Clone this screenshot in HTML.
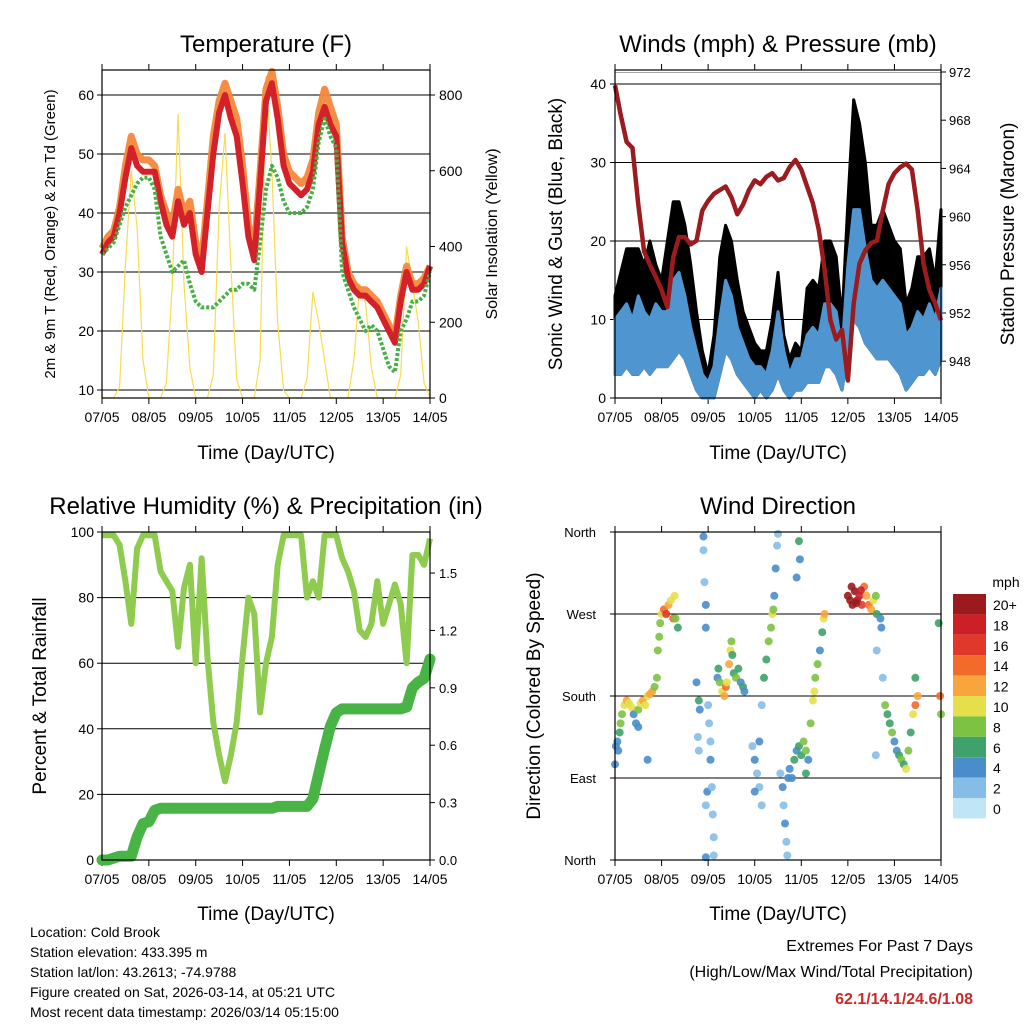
<!DOCTYPE html>
<html><head><meta charset="utf-8"><style>
body{margin:0;background:#fff}
svg{display:block;font-family:"Liberation Sans",Arial,sans-serif}
</style></head><body>
<svg id="chart" width="1024" height="1024" viewBox="0 0 1024 1024">
<rect width="1024" height="1024" fill="#fff"/>
</svg>
<script>
// ---- data (sampled every 3 hours, 07/05 00Z .. 14/05 00Z) ----
const dayLabels=["07/05","08/05","09/05","10/05","11/05","12/05","13/05","14/05"];
const tempRed=[33,35,36,40,46,51,48,47,47,47,42,38,36,42,38,40,33,30,40,50,57,60,56,53,45,36,32,45,59,62,56,48,45,44,43,44,47,55,58,55,53,35,29,27,26,26,25,24,22,20,18,25,30,27,27,28,31];
const tempOrange=[34,36,37,41,48,53,50,49,49,48,43,40,38,44,40,42,35,32,42,53,59,62,59,56,48,38,34,47,61,64,58,50,47,46,45,46,49,57,61,58,55,36,30,28,27,27,26,25,23,21,19,26,31,28,28,29,31];
const dewGreen=[33,34,35,38,41,43,45,46,46,44,36,33,30,31,32,28,25,24,24,24,25,26,27,27,28,28,27,35,44,48,46,42,40,40,40,41,44,52,56,53,51,30,27,24,22,20,21,20,17,14,13,20,22,25,25,26,30];
const solar=[0,0,0,30,350,600,450,100,0,0,0,40,300,750,300,80,0,0,0,60,500,700,350,50,0,0,0,100,850,600,200,20,0,0,0,50,280,200,100,0,0,0,0,100,300,250,80,0,0,0,0,60,400,300,200,40,0];
const tempTicks=[10,20,30,40,50,60];
const solarTicks=[0,200,400,600,800];
const gust=[13,16,19,19,19,17,20,17,15,20,25,25,22,17,11,6,3,8,18,22,20,15,11,9,7,6,6,10,16,8,5,7,6,14,15,14,20,20,18,10,25,38,35,30,22,22,24,22,20,19,12,14,18,18,19,15,24];
const windHigh=[10,11,12,10,13,11,10,12,11,11,15,16,13,9,6,3,2,4,10,15,13,9,7,5,4,4,3,6,11,6,3,5,5,8,9,8,12,12,11,6,17,24,24,19,15,14,15,14,13,12,8,9,11,10,12,10,14];
const windLow=[3,3,4,3,3,4,3,4,4,4,5,6,5,3,1,0,0,0,3,6,5,3,2,1,0,1,0,1,3,1,0,1,1,2,2,2,4,4,3,1,6,10,9,7,6,5,5,5,4,3,1,2,3,3,4,3,5];
const pressure=[970.9,968.4,966.2,965.7,961,957.1,956,955,953.9,952.5,956.6,958.3,958.3,957.7,958,960.5,961.3,961.9,962.2,962.5,961.6,960.2,961,962.2,963,962.7,963.3,963.6,963,963.2,964.1,964.7,963.9,962.5,961.1,958.9,955.6,951.4,949.8,950.6,946.4,952.8,956.1,957.2,957.8,958,960.5,962.7,963.6,964.1,964.4,963.9,960.5,956.1,953.9,952.8,951.4];
const windTicks=[0,10,20,30,40];
const pressTicks=[948,952,956,960,964,968,972];
const rh=[99,99,99,96,85,72,95,99,99,99,88,85,82,65,83,90,60,92,62,42,32,24,32,42,62,80,75,45,60,68,90,99,99,99,99,80,85,80,99,99,99,92,88,82,70,68,72,85,72,78,84,78,60,93,93,90,98];
const precip=[0,0,0.01,0.02,0.02,0.02,0.12,0.19,0.2,0.26,0.27,0.27,0.27,0.27,0.27,0.27,0.27,0.27,0.27,0.27,0.27,0.27,0.27,0.27,0.27,0.27,0.27,0.27,0.27,0.27,0.28,0.28,0.28,0.28,0.28,0.28,0.32,0.45,0.58,0.7,0.77,0.79,0.79,0.79,0.79,0.79,0.79,0.79,0.79,0.79,0.79,0.79,0.8,0.9,0.93,0.95,1.05];
const rhTicks=[0,20,40,60,80,100];
const precipTicks=["0.0","0.3","0.6","0.9","1.2","1.5"];
const dirTime=[0,0.02,0.05,0.07,0.1,0.12,0.15,0.2,0.25,0.3,0.35,0.4,0.45,0.5,0.55,0.6,0.65,0.7,0.75,0.8,0.85,0.9,0.92,0.95,0.97,1.0,1.05,1.1,1.15,1.2,1.25,1.28,1.3,1.35,0.5,0.7,
1.9,1.9,1.92,1.95,1.95,1.75,1.8,1.82,1.78,1.8,1.95,1.98,2.0,2.02,2.05,2.05,2.08,2.1,2.12,2.12,1.95,
2.2,2.22,2.25,2.3,2.35,2.38,2.4,2.45,2.48,2.5,2.52,2.55,2.6,2.65,2.7,2.75,2.78,
2.95,3.0,3.05,3.1,3.15,3.0,3.1,3.15,3.2,3.25,3.3,3.35,3.38,3.4,3.42,3.45,3.48,3.5,
3.55,3.6,3.62,3.65,3.68,3.7,3.72,3.75,3.8,3.85,3.9,3.95,4.0,4.05,4.1,4.1,4.15,4.2,4.25,4.28,4.3,4.35,4.4,4.45,4.48,4.5,3.95,3.97,3.9,
5.0,5.05,5.1,5.15,5.2,5.25,5.3,5.35,5.4,5.45,5.5,5.55,5.6,5.62,5.08,5.18,5.28,
5.7,5.72,5.75,5.8,5.85,5.9,5.95,6.0,6.05,6.1,6.15,6.2,6.25,6.3,6.35,6.4,6.45,6.5,6.45,5.62,5.6,6.95,6.98,7.0];
const dirDeg=[105,125,130,120,140,150,160,170,175,172,168,160,150,165,172,175,170,180,182,185,190,200,230,245,260,270,275,270,280,285,265,290,265,255,146,110,
355,340,305,280,255,195,175,165,135,120,60,75,170,150,130,110,80,50,25,5,3,
200,210,195,185,180,190,195,215,230,240,225,205,200,210,195,190,185,
125,110,95,80,60,75,130,170,200,220,240,255,270,275,290,320,345,358,
95,80,60,40,20,5,90,100,90,110,120,125,115,130,120,95,110,150,175,185,200,215,230,250,265,270,350,330,310,
290,285,280,295,285,290,280,300,290,280,275,285,290,270,300,282,296,
265,255,200,170,160,150,140,130,120,115,110,105,100,120,140,160,170,180,200,230,115,260,180,160];
const dirSpeed=[4,4,3,4,6,8,8,10,11,10,9,4,4,8,10,11,9,10,12,11,8,8,8,7,8,10,14,15,12,10,13,10,7,6,4,4,
3,2,2,4,4,4,6,4,2,2,2,3,2,2,2,3,2,2,2,1,3,
4,6,8,10,12,14,10,12,10,8,6,6,7,6,4,6,4,
2,3,2,2,2,3,4,2,6,6,7,8,9,7,3,3,2,2,
2,4,2,3,2,2,4,4,3,5,4,6,6,7,7,6,4,8,10,9,8,7,4,6,10,12,6,4,4,
20,21,22,20,19,18,16,14,12,14,12,10,8,6,21,19,17,
4,3,2,8,6,6,8,4,4,6,8,6,10,8,6,10,14,12,6,2,2,6,14,8];
const dirTicks=[[0,"North"],[90,"East"],[180,"South"],[270,"West"],[360,"North"]];
const speedBins=["0","2","4","6","8","10","12","14","16","18","20+"];
const speedColors=["#bfe5f7","#86bde6","#4a8dcb","#3ea26a","#7cc243","#e5df4b","#f8a53d","#f26b2a","#e0392b","#cc1f26","#9b1a1d"];

// ---- drawing ----
const svg=document.getElementById('chart');
const NS="http://www.w3.org/2000/svg";
function mk(tag,attrs,parent){const e=document.createElementNS(NS,tag);for(const k in attrs)e.setAttribute(k,attrs[k]);(parent||svg).appendChild(e);return e;}
function txt(s,x,y,size,anchor,parent,extra){const e=mk('text',Object.assign({x:x,y:y,'font-size':size,'text-anchor':anchor||'middle',fill:'#000'},extra||{}),parent);e.textContent=s;return e;}
const N=tempRed.length;
function tOf(i){return i*7/(N-1);}
function pts(arr,fx,fy){return arr.map((v,i)=>fx(tOf(i)).toFixed(1)+','+fy(v).toFixed(1)).join(' ');}

function frame(name,x0,y0,x1,y1,title,xtitleY){
  const g=mk('g',{});
  
  
  const tt=txt(title,(x0+x1)/2,y0-18,24,'middle',g);
  
  
  const xs=t=>x0+t/7*(x1-x0);
  dayLabels.forEach((d,i)=>{
    const x=xs(i);
    mk('line',{x1:x,y1:y1,x2:x,y2:y1+6,stroke:'#000','stroke-width':1},g);
    mk('line',{x1:x,y1:y0,x2:x,y2:y0-6,stroke:'#000','stroke-width':1},g);
    const l=txt(d,x,y1+24,14,'middle',g);
    
    
  });
  const xt=txt('Time (Day/UTC)',(x0+x1)/2,xtitleY,19,'middle',g);
  
  
  return {g,xs};
}
function box(g,x0,y0,x1,y1){mk('rect',{x:x0,y:y0,width:x1-x0,height:y1-y0,fill:'none',stroke:'#000','stroke-width':1.2},g);}
function ytitle(s,x,y,size,g,name){const e=txt(s,x,y,size,'middle',g,{transform:'rotate(-90 '+x+' '+y+')'});}

// Panel 1: Temperature
(function(){
  const x0=102,x1=430,y0=70,y1=398;
  const {g,xs}=frame('temperature-panel',x0,y0,x1,y1,'Temperature (F)',459);
  const yT=v=>390-(v-10)*5.9, yS=v=>398-v*303/800;
  tempTicks.forEach(v=>{mk('line',{x1:x0,x2:x1,y1:yT(v),y2:yT(v),stroke:'#000','stroke-width':1},g);
    mk('line',{x1:x0-5,x2:x0,y1:yT(v),y2:yT(v),stroke:'#000'},g);txt(String(v),x0-8,yT(v)+5,14,'end',g);});
  solarTicks.forEach(v=>{mk('line',{x1:x1,x2:x1+5,y1:yS(v),y2:yS(v),stroke:'#000'},g);txt(String(v),x1+9,yS(v)+5,14,'start',g);});
  const s=mk('polyline',{points:pts(solar,xs,yS),fill:'none',stroke:'#f7dc4e','stroke-width':1.2},g);
  
  const o=mk('polyline',{points:pts(tempOrange,xs,yT),fill:'none',stroke:'#f5873a','stroke-width':7,'stroke-linejoin':'round',opacity:0.95},g);
  
  const r=mk('polyline',{points:pts(tempRed,xs,yT),fill:'none',stroke:'#d42028','stroke-width':6,'stroke-linejoin':'round'},g);
  
  const gr=mk('polyline',{points:pts(dewGreen,xs,yT),fill:'none',stroke:'#47b045','stroke-width':4,'stroke-dasharray':'3 2','stroke-linejoin':'round'},g);
  
  box(g,x0,y0,x1,y1);
  ytitle('2m & 9m T (Red, Orange) & 2m Td (Green)',55,234,15,g,'y-axis-title-left');
  ytitle('Solar Insolation (Yellow)',497,234,16,g,'y-axis-title-right');
})();

// Panel 2: Winds & Pressure
(function(){
  const x0=615,x1=941,y0=70,y1=398;
  const {g,xs}=frame('winds-panel',x0,y0,x1,y1,'Winds (mph) & Pressure (mb)',459);
  const yW=v=>398-v*7.85, yP=p=>72+(972-p)*12.05;
  windTicks.forEach(v=>{if(v>0)mk('line',{x1:x0,x2:x1,y1:yW(v),y2:yW(v),stroke:'#000','stroke-width':1},g);
    mk('line',{x1:x0-5,x2:x0,y1:yW(v),y2:yW(v),stroke:'#000'},g);txt(String(v),x0-9,yW(v)+5,14,'end',g);});
  mk('line',{x1:x0,x2:x1,y1:72.5,y2:72.5,stroke:'#888','stroke-width':0.8},g);
  pressTicks.forEach(v=>{mk('line',{x1:x1,x2:x1+5,y1:yP(v),y2:yP(v),stroke:'#000'},g);txt(String(v),x1+8,yP(v)+5,13,'start',g);});
  const top=gust.map((v,i)=>xs(tOf(i)).toFixed(1)+','+yW(v).toFixed(1));
  const bot=windLow.map((v,i)=>xs(tOf(i)).toFixed(1)+','+yW(v).toFixed(1)).reverse();
  const gp=mk('polygon',{points:top.concat(bot).join(' '),fill:'#000',stroke:'#000','stroke-width':3,'stroke-linejoin':'round'},g);
  
  const btop=windHigh.map((v,i)=>xs(tOf(i)).toFixed(1)+','+yW(v).toFixed(1));
  const bp=mk('polygon',{points:btop.concat(bot).join(' '),fill:'#4f96d0',stroke:'#4f96d0','stroke-width':3,'stroke-linejoin':'round'},g);
  
  const pl=mk('polyline',{points:pts(pressure,xs,yP),fill:'none',stroke:'#9b1b1f','stroke-width':4.5,'stroke-linejoin':'round'},g);
  
  box(g,x0,y0,x1,y1);
  ytitle('Sonic Wind & Gust (Blue, Black)',562,234,19,g,'y-axis-title-left');
  ytitle('Station Pressure (Maroon)',1014,234,19,g,'y-axis-title-right');
})();

// Panel 3: RH & precip
(function(){
  const x0=102,x1=430,y0=532,y1=860;
  const {g,xs}=frame('humidity-panel',x0,y0,x1,y1,'Relative Humidity (%) & Precipitation (in)',920);
  const yR=v=>860-v*3.28, yPr=v=>860-v*191.3;
  rhTicks.forEach(v=>{if(v>0&&v<100)mk('line',{x1:x0,x2:x1,y1:yR(v),y2:yR(v),stroke:'#000','stroke-width':1},g);
    mk('line',{x1:x0-5,x2:x0,y1:yR(v),y2:yR(v),stroke:'#000'},g);txt(String(v),x0-8,yR(v)+5,14,'end',g);});
  precipTicks.forEach(s=>{const v=parseFloat(s);mk('line',{x1:x1,x2:x1+5,y1:yPr(v),y2:yPr(v),stroke:'#000'},g);txt(s,x1+9,yPr(v)+5,13,'start',g);});
  const r=mk('polyline',{points:pts(rh,xs,yR),fill:'none',stroke:'#8fcb4f','stroke-width':6,'stroke-linejoin':'round'},g);
  
  const p=mk('polyline',{points:pts(precip,xs,yPr),fill:'none',stroke:'#48b446','stroke-width':11,'stroke-linejoin':'round','stroke-linecap':'round'},g);
  
  box(g,x0,y0,x1,y1);
  ytitle('Percent & Total Rainfall',46,696,19,g,'y-axis-title-left');
})();

// Panel 4: wind direction
(function(){
  const x0=615,x1=941,y0=532,y1=860;
  const {g,xs}=frame('wind-direction-panel',x0,y0,x1,y1,'Wind Direction',920);
  const yD=d=>860-d*328/360;
  dirTicks.forEach(([d,l])=>{if(d>0&&d<360)mk('line',{x1:x0,x2:x1,y1:yD(d),y2:yD(d),stroke:'#000','stroke-width':1},g);
    mk('line',{x1:x0-5,x2:x0,y1:yD(d),y2:yD(d),stroke:'#000'},g);txt(l,x0-19,yD(d)+5,13,'end',g);});
  function col(s){let b=Math.min(10,Math.max(0,Math.round(s/2)));return speedColors[b];}
  dirTime.forEach((t,i)=>{
    const c=mk('circle',{cx:xs(t),cy:yD(dirDeg[i]),r:4,fill:col(dirSpeed[i]),opacity:0.9},g);
    
    
  });
  box(g,x0,y0,x1,y1);
  ytitle('Direction (Colored By Speed)',540,696,19,g,'y-axis-title-left');
  const cb=mk('g',{});
  
  
  txt('mph',1006,587,14,'middle',cb);
  const bx=953,bw=33,bh=20.4,by=594;
  speedBins.slice().reverse().forEach((lab,k)=>{
    mk('rect',{x:bx,y:by+k*bh,width:bw,height:bh,fill:speedColors[10-k]},cb);
    txt(lab,993,by+k*bh+16,14,'start',cb);
  });
})();

// Footer text
(function(){
  const g=mk('g',{});
  
  
  ["Location: Cold Brook","Station elevation: 433.395 m","Station lat/lon: 43.2613; -74.9788","Figure created on Sat, 2026-03-14, at 05:21 UTC","Most recent data timestamp: 2026/03/14 05:15:00"].forEach((s,i)=>txt(s,30,937+i*20,14,'start',g));
  const e=mk('g',{});
  
  
  txt('Extremes For Past 7 Days',973,951,16,'end',e);
  txt('(High/Low/Max Wind/Total Precipitation)',973,977,16,'end',e);
  txt('62.1/14.1/24.6/1.08',973,1004,16,'end',e,{fill:'#cc2a2a','font-weight':'bold'});
})();
</script>
</body></html>
